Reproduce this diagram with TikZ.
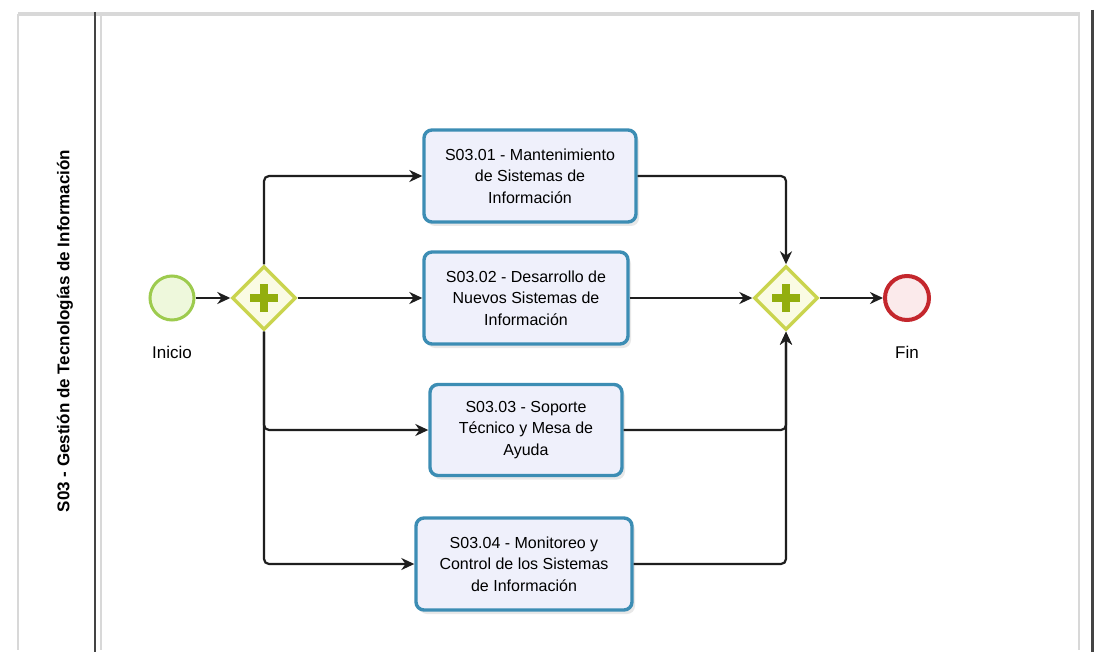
\documentclass[tikz,border=0pt]{standalone}
\usepackage{fontspec}
\setmainfont{Liberation Sans}
\usetikzlibrary{shapes.geometric,arrows.meta,shadows}

\definecolor{poolgray}{HTML}{D8D8D8}
\definecolor{lanedark}{HTML}{444444}
\definecolor{taskborder}{HTML}{3C8DB4}
\definecolor{taskfill}{HTML}{EFF0FB}
\definecolor{gateborder}{HTML}{CAD44E}
\definecolor{gatefill}{HTML}{FAFBE3}
\definecolor{gateplus}{HTML}{93AE0E}
\definecolor{startborder}{HTML}{9DCB4E}
\definecolor{startfill}{HTML}{EEF8DC}
\definecolor{endborder}{HTML}{C4272D}
\definecolor{endfill}{HTML}{FBEAEB}
\definecolor{flowcol}{HTML}{1E1E1E}

\tikzset{
  taskbox/.style={draw=taskborder, line width=3.4pt, fill=taskfill,
    rounded corners=8pt, align=center, font=\fontsize{16}{21.5}\selectfont,
    drop shadow={opacity=0.18, shadow xshift=3pt, shadow yshift=-4pt}},
  gateway/.style={diamond, draw=gateborder, line width=3.4pt, fill=gatefill,
    minimum width=64pt, minimum height=64pt, inner sep=0pt},
  startev/.style={circle, draw=startborder, line width=3pt, fill=startfill,
    minimum size=44pt, inner sep=0pt},
  endev/.style={circle, draw=endborder, line width=4pt, fill=endfill,
    minimum size=44pt, inner sep=0pt},
  evlabel/.style={font=\fontsize{17}{19}\selectfont},
  flow/.style={draw=flowcol, line width=2.2pt, rounded corners=5pt,
    -{Stealth[length=13pt,width=12pt]}},
  plusbar/.style={draw=gateplus, line width=8pt}
}

\begin{document}
\begin{tikzpicture}[x=1pt,y=-1pt]
  \useasboundingbox (0,0) rectangle (1102,652);
  \fill[white] (0,0) rectangle (1102,652);

  % pool frame and lane header
  \draw[poolgray, line width=4pt] (18,14) -- (1080,14);
  \draw[poolgray, line width=2pt] (18,14) -- (18,650);
  \draw[poolgray, line width=2pt] (1079,14) -- (1079,650);
  \draw[poolgray, line width=1.2pt] (101,16) -- (101,650);
  \draw[lanedark, line width=2.5pt] (95,12) -- (95,652);
  \draw[lanedark, line width=3pt] (1092,10) -- (1092,652);
  \node[rotate=90, font=\bfseries\fontsize{17}{19}\selectfont] (lane) at (65,331)
    {S03 - Gestión de Tecnologías de Información};

  % events and gateways
  \node[startev] (start) at (172,298) {};
  \node[evlabel] (startlbl) at (172,352) {Inicio};
  \node[gateway] (split) at (264,298) {};
  \node[gateway] (join) at (786,298) {};
  \node[endev] (end) at (907,298) {};
  \node[evlabel] (endlbl) at (907,352) {Fin};

  % plus markers of the parallel gateways
  \foreach \g in {split,join}{
    \draw[plusbar] ([xshift=-14pt]\g.center) -- ([xshift=14pt]\g.center);
    \draw[plusbar] ([yshift=-14pt]\g.center) -- ([yshift=14pt]\g.center);
  }

  % tasks
  \node[taskbox, minimum width=212pt, minimum height=92pt] (t1) at (530,176)
    {S03.01 - Mantenimiento\\de Sistemas de\\Información};
  \node[taskbox, minimum width=204pt, minimum height=92pt] (t2) at (526,298)
    {S03.02 - Desarrollo de\\Nuevos Sistemas de\\Información};
  \node[taskbox, minimum width=192pt, minimum height=91pt] (t3) at (526,430)
    {S03.03 - Soporte\\Técnico y Mesa de\\Ayuda};
  \node[taskbox, minimum width=216pt, minimum height=92pt] (t4) at (524,564)
    {S03.04 - Monitoreo y\\Control de los Sistemas\\de Información};

  % sequence flows
  \draw[flow] (start) -- (split);
  \draw[flow] (split) -- (t2);
  \draw[flow] (split.north) |- (t1.west);
  \draw[flow] (split.south) |- (t3.west);
  \draw[flow] (split.south) |- (t4.west);
  \draw[flow] (t1.east) -| (join.north);
  \draw[flow] (t2.east) -- (join.west);
  \draw[flow] (t3.east) -| (join.south);
  \draw[flow] (t4.east) -| (join.south);
  \draw[flow] (join) -- (end);
\end{tikzpicture}
\end{document}
